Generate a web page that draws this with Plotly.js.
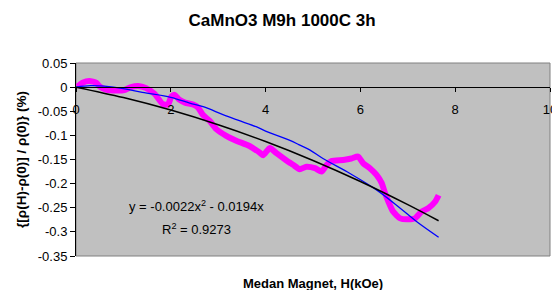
<!DOCTYPE html>
<html><head><meta charset="utf-8">
<script src="https://cdn.plot.ly/plotly-3.0.1.min.js"></script>
<style>html,body{margin:0;padding:0;background:#fff}#chart{width:552px;height:290px}</style>
</head><body><div id="chart"></div>
<script>
// Measured series (magenta)
const dataH = [0.03,0.14,0.28,0.43,0.49,0.63,0.85,1.02,1.16,1.34,1.48,1.66,1.83,1.94,2.01,2.08,2.18,2.30,2.47,2.57,2.68,2.82,2.96,3.17,3.38,3.66,3.88,3.95,4.09,4.23,4.44,4.58,4.72,4.86,5.04,5.18,5.29,5.39,5.64,5.81,5.95,6.06,6.20,6.34,6.45,6.52,6.59,6.69,6.84,6.98,7.15,7.29,7.43,7.58,7.65];
const dataR = [0.001,0.009,0.0126,0.009,0.002,-0.005,-0.007,-0.006,0.0,0.002,-0.002,-0.014,-0.035,-0.036,-0.020,-0.016,-0.026,-0.032,-0.036,-0.042,-0.058,-0.070,-0.087,-0.101,-0.111,-0.122,-0.136,-0.141,-0.126,-0.137,-0.152,-0.161,-0.170,-0.165,-0.168,-0.175,-0.161,-0.153,-0.151,-0.148,-0.144,-0.158,-0.168,-0.182,-0.199,-0.220,-0.237,-0.258,-0.272,-0.274,-0.272,-0.258,-0.251,-0.237,-0.224];
// Blue curve
const blueH = [0,0.3,0.6,1.0,1.4,2.0,2.4,2.7,3.1,3.4,3.8,4.0,4.5,4.7,4.93,5.21,5.78,6.34,6.84,7.19,7.65];
const blueR = [0,0.003,0.002,-0.003,-0.011,-0.021,-0.033,-0.041,-0.057,-0.068,-0.082,-0.091,-0.110,-0.119,-0.130,-0.148,-0.179,-0.213,-0.251,-0.279,-0.311];
// Black trendline
const fitH = [0,1,2,3,4,5,6,7,7.65];
const fitR = [0,-0.0216,-0.0476,-0.078,-0.1128,-0.152,-0.1956,-0.2436,-0.277];
const xTicks = [0,2,4,6,8,10];
const yTicks = [0.05,0,-0.05,-0.1,-0.15,-0.2,-0.25,-0.3,-0.35];
const yTickText = ['0.05','0','-0.05','-0.1','-0.15','-0.2','-0.25','-0.3','-0.35'];

const traces = [
  {x:dataH, y:dataR, mode:'lines', line:{color:'#ff00ff', width:6, shape:'spline', smoothing:0.6}, hoverinfo:'none'},
  {x:blueH, y:blueR, mode:'lines', line:{color:'#0000ff', width:1.3, shape:'spline'}, hoverinfo:'none'},
  {x:fitH, y:fitR, mode:'lines', line:{color:'#000000', width:1.5, shape:'spline'}, hoverinfo:'none'}
];
const F = 'Arial, "Liberation Sans", sans-serif';
const layout = {
  width:552, height:290, showlegend:false,
  margin:{l:76, r:2, t:63, b:34},
  paper_bgcolor:'#ffffff', plot_bgcolor:'#c0c0c0',
  font:{family:F, size:13, color:'#000'},
  title:{text:'<b>CaMnO3 M9h 1000C 3h</b>', font:{family:F, size:17, color:'#000'}, x:0.511, xanchor:'center', y:0.93, yanchor:'middle'},
  xaxis:{range:[0,10], tickvals:xTicks, ticktext:xTicks.map(String), showgrid:false, zeroline:false,
    showline:true, linecolor:'#000', linewidth:1, ticks:'outside', ticklen:4, tickcolor:'#000',
    anchor:'free', position:0.875, tickfont:{size:13}, ticklabelstandoff:6, ticklabeloverflow:'allow'},
  yaxis:{range:[-0.35,0.05], tickvals:yTicks, ticktext:yTickText, showgrid:false, zeroline:false,
    showline:true, linecolor:'#000', linewidth:1, ticks:'outside', ticklen:5, tickcolor:'#000',
    title:{text:'<b>{[ρ(H)-ρ(0)] / ρ(0)} (%)</b>', font:{size:13.5}, standoff:8}},
  shapes:[{type:'rect', xref:'paper', yref:'paper', x0:0, x1:1, y0:0, y1:1, line:{color:'#808080', width:1}, layer:'below'}],
  annotations:[
    {text:'<b>Medan Magnet, H(kOe)</b>', xref:'paper', yref:'paper', x:0.5, y:-0.14, xanchor:'center', yanchor:'middle', showarrow:false, font:{size:13}},
    {text:'y = -0.0022x<sup>2</sup> - 0.0194x', xref:'x', yref:'y', x:2.55, y:-0.247, xanchor:'center', yanchor:'middle', showarrow:false, font:{size:13}},
    {text:'R<sup>2</sup> = 0.9273', xref:'x', yref:'y', x:2.55, y:-0.293, xanchor:'center', yanchor:'middle', showarrow:false, font:{size:13}}
  ]
};
Plotly.newPlot('chart', traces, layout, {staticPlot:true, displayModeBar:false});
</script></body></html>
